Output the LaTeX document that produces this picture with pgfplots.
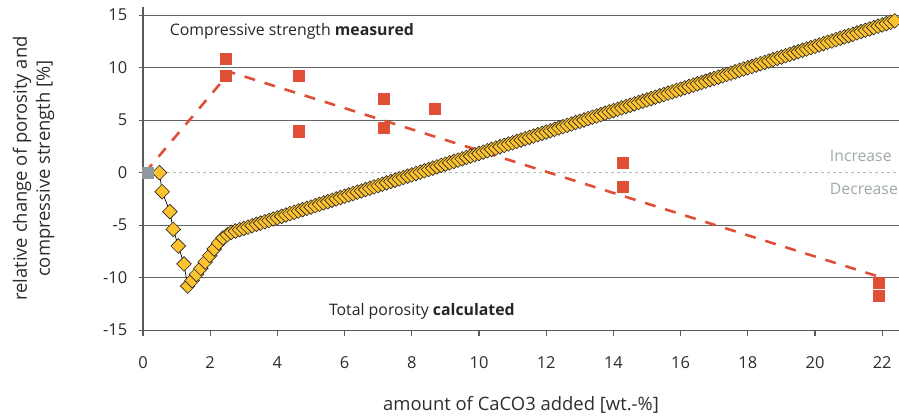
\documentclass[border=0pt]{standalone}
\usepackage{pgfplots}
\pgfplotsset{compat=1.18}
\usepackage{fontspec}
\setmainfont{Open Sans}
\usetikzlibrary{calc}
\definecolor{cred}{RGB}{222,79,54}
\definecolor{cyel}{RGB}{253,195,46}
\definecolor{cgraysq}{RGB}{143,154,160}
\definecolor{gridgray}{RGB}{100,100,100}
\definecolor{axisgray}{RGB}{90,90,90}
\definecolor{zerogray}{RGB}{185,185,185}
\definecolor{labelgray}{RGB}{45,45,45}
\definecolor{notegray}{RGB}{160,168,172}

\pgfplotstableread{
x y
0.49 0.00
0.57 -1.81
0.80 -3.71
0.90 -5.39
1.05 -6.98
1.22 -8.69
1.33 -10.79
1.46 -10.27
1.59 -9.69
1.72 -9.10
1.85 -8.50
1.99 -7.88
2.12 -7.27
2.25 -6.69
2.38 -6.22
2.51 -5.91
2.625 -5.69
2.75 -5.56
2.875 -5.43
3.0 -5.31
3.125 -5.18
3.25 -5.05
3.375 -4.92
3.5 -4.80
3.625 -4.67
3.75 -4.54
3.875 -4.41
4.0 -4.29
4.125 -4.16
4.25 -4.03
4.375 -3.90
4.5 -3.78
4.625 -3.65
4.75 -3.52
4.875 -3.39
5.0 -3.27
5.125 -3.14
5.25 -3.01
5.375 -2.88
5.5 -2.76
5.625 -2.63
5.75 -2.50
5.875 -2.37
6.0 -2.25
6.125 -2.12
6.25 -1.99
6.375 -1.86
6.5 -1.74
6.625 -1.61
6.75 -1.48
6.875 -1.35
7.0 -1.23
7.125 -1.10
7.25 -0.97
7.375 -0.84
7.5 -0.72
7.625 -0.59
7.75 -0.46
7.875 -0.33
8.0 -0.21
8.125 -0.08
8.25 0.05
8.375 0.18
8.5 0.30
8.625 0.43
8.75 0.56
8.875 0.69
9.0 0.81
9.125 0.94
9.25 1.07
9.375 1.20
9.5 1.32
9.625 1.45
9.75 1.58
9.875 1.71
10.0 1.83
10.125 1.96
10.25 2.09
10.375 2.22
10.5 2.34
10.625 2.47
10.75 2.60
10.875 2.73
11.0 2.85
11.125 2.98
11.25 3.11
11.375 3.24
11.5 3.36
11.625 3.49
11.75 3.62
11.875 3.75
12.0 3.87
12.125 4.00
12.25 4.13
12.375 4.26
12.5 4.38
12.625 4.51
12.75 4.64
12.875 4.77
13.0 4.89
13.125 5.02
13.25 5.15
13.375 5.28
13.5 5.40
13.625 5.53
13.75 5.66
13.875 5.79
14.0 5.91
14.125 6.04
14.25 6.17
14.375 6.30
14.5 6.42
14.625 6.55
14.75 6.68
14.875 6.81
15.0 6.93
15.125 7.06
15.25 7.19
15.375 7.32
15.5 7.44
15.625 7.57
15.75 7.70
15.875 7.83
16.0 7.95
16.125 8.08
16.25 8.21
16.375 8.34
16.5 8.46
16.625 8.59
16.75 8.72
16.875 8.85
17.0 8.97
17.125 9.10
17.25 9.23
17.375 9.36
17.5 9.48
17.625 9.61
17.75 9.74
17.875 9.87
18.0 9.99
18.125 10.12
18.25 10.25
18.375 10.38
18.5 10.50
18.625 10.63
18.75 10.76
18.875 10.89
19.0 11.01
19.125 11.14
19.25 11.27
19.375 11.40
19.5 11.52
19.625 11.65
19.75 11.78
19.875 11.91
20.0 12.03
20.125 12.16
20.25 12.29
20.375 12.42
20.5 12.54
20.625 12.67
20.75 12.80
20.875 12.93
21.0 13.05
21.125 13.18
21.25 13.31
21.375 13.44
21.5 13.56
21.625 13.69
21.75 13.82
21.875 13.95
22.0 14.07
22.125 14.20
22.25 14.33
22.375 14.46
}\porosity

\pgfplotstableread{
x y
2.47 10.86
2.47 9.28
4.62 9.28
4.62 3.97
7.15 7.05
7.15 4.26
8.69 6.07
14.28 0.95
14.28 -1.33
21.90 -10.48
21.90 -11.68
}\strength

\pgfplotstableread{
x y
0.06 0
2.59 9.59
21.90 -9.90
}\strengthtrend

\begin{document}
\begin{tikzpicture}
\begin{axis}[
  name=ax,
  scale only axis,
  width=756bp, height=323.2bp,
  xmin=0, xmax=22.5, ymin=-15, ymax=15.78,
  axis x line*=bottom, axis y line*=left,
  axis line style={-, draw=axisgray, line width=1.3bp},
  xtick={0,2,...,22},
  ytick={-15,-10,-5,5,10,15},
  extra y ticks={0},
  extra y tick style={grid=major, major grid style={draw=zerogray, line width=1.2bp, dash pattern=on 3bp off 3bp}},
  ymajorgrids,
  major grid style={draw=gridgray, line width=1.3bp},
  tick align=outside,
  xtick style={draw=axisgray, line width=1.2bp, /pgfplots/major tick length=6bp},
  ytick style={draw=axisgray, line width=1.2bp, /pgfplots/major tick length=4bp},
  /pgf/number format/assume math mode=true,
  ticklabel style={font=\fontsize{16.5}{20}\selectfont, text=labelgray},
  xticklabel style={anchor=center, yshift=-28bp},
  yticklabel style={anchor=east, xshift=-8bp},
  xlabel={amount of CaCO3 added [wt.-\%]},
  xlabel style={at={(rel axis cs:0.5,0)}, anchor=center, yshift=-75bp, font=\fontsize{18.5}{22}\selectfont, text=labelgray},
  ylabel={relative change of porosity and\\compressive strength [\%]},
  ylabel style={at={(rel axis cs:0,0.5)}, anchor=center, yshift=109.5bp, align=center, font=\fontsize{18.5}{23}\selectfont, text=labelgray},
  clip=false,
]
\addplot[black, line width=0.7bp, mark=square*, mark size=5.2bp,
  mark options={rotate=45, fill=cyel, draw=black!85, line width=0.6bp}] table[x=x,y=y] {\porosity};
\addplot[cred, line width=2.6bp, dash pattern=on 11bp off 10bp] table[x=x,y=y] {\strengthtrend};
\addplot[cred, only marks, mark=square*, mark size=5.6bp, mark options={fill=cred, draw=cred, line width=0.2bp}] table[x=x,y=y] {\strength};
\addplot[cgraysq, only marks, mark=square*, mark size=5.3bp, mark options={fill=cgraysq, draw=cgraysq, line width=0.2bp}] coordinates {(0.13,0)};
\node[font=\fontsize{15.9}{19}\selectfont, text=black!85, inner sep=0] at (axis cs:4.43,13.50) {Compressive strength \textbf{measured}};
\node[font=\fontsize{15.9}{19}\selectfont, text=black!85, inner sep=0] at (axis cs:8.30,-13.24) {Total porosity \textbf{calculated}};
\node[font=\fontsize{15.8}{19}\selectfont, text=notegray, inner sep=0, anchor=west] at (axis cs:20.44,1.62) {Increase};
\node[font=\fontsize{15.8}{19}\selectfont, text=notegray, inner sep=0, anchor=west] at (axis cs:20.44,-1.58) {Decrease};
\end{axis}
\pgfresetboundingbox
\useasboundingbox ($(ax.south west)+(-143bp,-86.8bp)$) rectangle ($(ax.north east)+(0,7bp)$);
\end{tikzpicture}
\end{document}
